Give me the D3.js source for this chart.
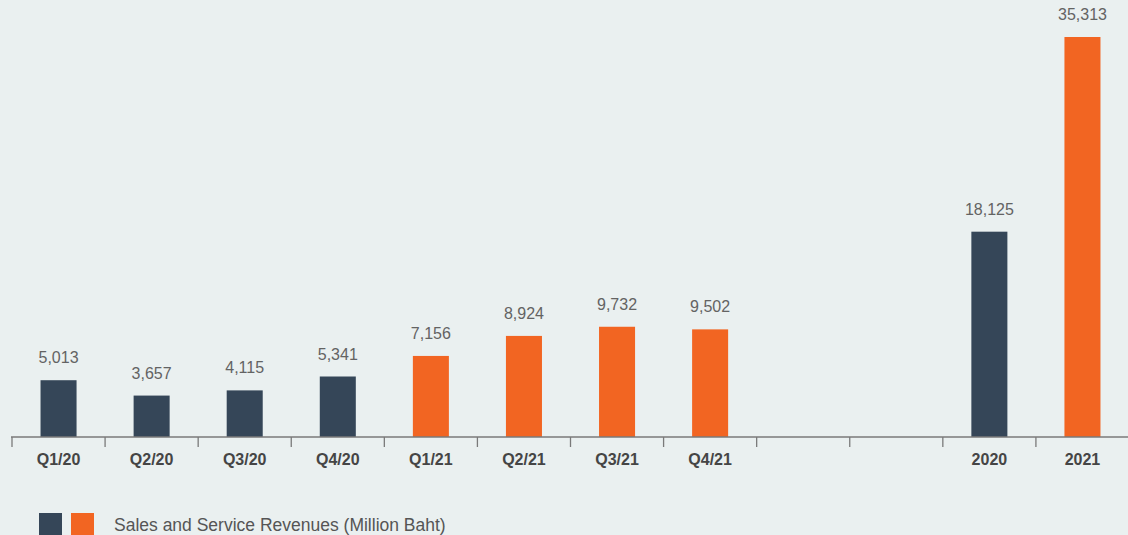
<!DOCTYPE html>
<html><head><meta charset="utf-8">
<script src="https://cdn.jsdelivr.net/npm/d3@7"></script>
<style>
html,body{margin:0;padding:0;background:#eaf0f0;}
svg{display:block;}
</style></head>
<body>
<svg id="chart" width="1128" height="535"></svg>
<script>
// Data
const categories = ["Q1/20","Q2/20","Q3/20","Q4/20","Q1/21","Q2/21","Q3/21","Q4/21","gap1","gap2","2020","2021"];
const tickLabels = ["Q1/20","Q2/20","Q3/20","Q4/20","Q1/21","Q2/21","Q3/21","Q4/21","","","2020","2021"];
const values =     [5013, 3657, 4115, 5341, 7156, 8924, 9732, 9502, null, null, 18125, 35313];
const seriesYear = ["2020","2020","2020","2020","2021","2021","2021","2021",null,null,"2020","2021"];
const legendLabel = "Sales and Service Revenues (Million Baht)";

const colors = {"2020":"#354658","2021":"#f26522"};
const W = 1128, H = 535;
const svg = d3.select("#chart");
svg.append("rect").attr("width",W).attr("height",H).attr("fill","#eaf0f0");

const x = d3.scaleBand().domain(categories).range([12, 1129]).padding(0);
const y = d3.scaleLinear().domain([0, 35313]).range([437, 37]);
const barW = x.bandwidth() * 0.387;

const data = categories.map((c,i)=>({c, v: values[i], s: seriesYear[i]})).filter(d=>d.v!=null);

svg.selectAll("rect.bar").data(data).enter().append("rect")
  .attr("class","bar")
  .attr("x", d => x(d.c) + (x.bandwidth()-barW)/2)
  .attr("y", d => y(d.v))
  .attr("width", barW)
  .attr("height", d => y(0) - y(d.v))
  .attr("fill", d => colors[d.s]);

svg.selectAll("text.val").data(data).enter().append("text")
  .attr("class","val")
  .attr("x", d => x(d.c) + x.bandwidth()/2)
  .attr("y", d => y(d.v) - 17)
  .attr("text-anchor","middle")
  .attr("font-family","'Liberation Sans', Arial, sans-serif")
  .attr("font-size","16px")
  .attr("fill","#636363")
  .text(d => d3.format(",")(d.v));

// Axis
const axisG = svg.append("g").attr("transform","translate(0,437)");
axisG.append("line").attr("x1",11).attr("x2",W).attr("y1",0).attr("y2",0)
  .attr("stroke","#7a7a7a").attr("stroke-width",1.5);
axisG.selectAll("line.tick").data(categories).enter().append("line")
  .attr("class","tick")
  .attr("x1", d => x(d)).attr("x2", d => x(d))
  .attr("y1",0).attr("y2",10)
  .attr("stroke","#7a7a7a").attr("stroke-width",1.3);
axisG.selectAll("text.lab").data(categories).enter().append("text")
  .attr("class","lab")
  .attr("x", d => x(d) + x.bandwidth()/2)
  .attr("y", 28)
  .attr("text-anchor","middle")
  .attr("font-family","'Liberation Sans', Arial, sans-serif")
  .attr("font-weight","bold")
  .attr("font-size","16px")
  .attr("fill","#454545")
  .text((d,i) => tickLabels[i]);

// Legend
const leg = svg.append("g");
leg.append("rect").attr("x",39).attr("y",513).attr("width",23).attr("height",23).attr("fill",colors["2020"]);
leg.append("rect").attr("x",71).attr("y",513).attr("width",23).attr("height",23).attr("fill",colors["2021"]);
leg.append("text").attr("x",114).attr("y",531)
  .attr("font-family","'Liberation Sans', Arial, sans-serif")
  .attr("font-size","17.5px")
  .attr("fill","#555")
  .text(legendLabel);
</script>
</body></html>
